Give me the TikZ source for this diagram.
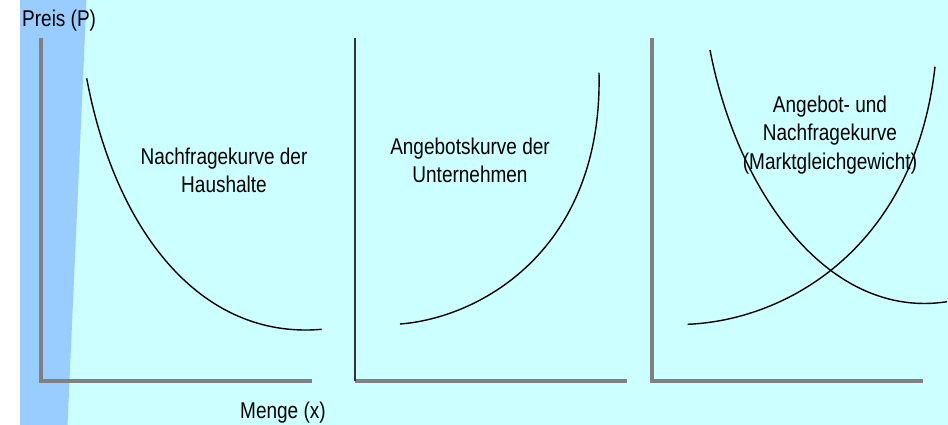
\documentclass[tikz,border=0pt]{standalone}
\usepackage{fontspec}
\setmainfont{Liberation Sans}
\definecolor{hgcyan}{HTML}{CCFFFF}
\definecolor{hgblau}{HTML}{99CCFF}
\definecolor{achse}{HTML}{808080}
\definecolor{achsedunkel}{HTML}{333333}
\begin{document}
\begin{tikzpicture}[x=1pt, y=-1pt,
    every node/.style={font=\fontsize{19}{23.75}\selectfont, yscale=1.2, inner sep=0pt, align=center},
    achse/.style={draw=achse, line width=3.3pt},
    kurve/.style={draw=black, line width=1.4pt}]
  % Hintergrund
  \fill[hgcyan] (0,0) rectangle (948,425);
  \fill[white] (0,0) rectangle (20,425);
  \fill[hgblau] (20,0) -- (86.5,0) -- (67.5,425) -- (20,425) -- cycle;
  \useasboundingbox (0,0) rectangle (948,425);

  % Achsen
  \draw[achse] (41,38) -- (41,381) -- (312,381);
  \draw[achse] (355,381) -- (627,381);
  \draw[achse, draw=achsedunkel, line width=2.8pt] (355,38) -- (355,381);
  \draw[achse] (652,38) -- (652,381) -- (923,381);

  % Nachfragekurve
  \draw[kurve] (86.7,78.3) .. controls (115,230) and (200,340) .. (321.7,329.3);
  % Angebotskurve
  \draw[kurve] (400,324) .. controls (480,318) and (603,250) .. (599,72.7);
  % Marktgleichgewicht
  \draw[kurve] (687.7,324.3) .. controls (790,320) and (915,245) .. (935,66.7);
  \draw[kurve] (710,50) .. controls (738,195) and (830,320) .. (947,301.7);

  % Beschriftungen
  \node[anchor=base west] (preis) at (22,27) {Preis (P)};
  \node[anchor=base west] (menge) at (240,418) {Menge (x)};
  \node (nachfrage) at (224,170.5) {Nachfragekurve der\\Haushalte};
  \node (angebot) at (470,160.5) {Angebotskurve der\\Unternehmen};
  \node (markt) at (830,135) {Angebot- und\\Nachfragekurve\\(Marktgleichgewicht)};
\end{tikzpicture}
\end{document}
